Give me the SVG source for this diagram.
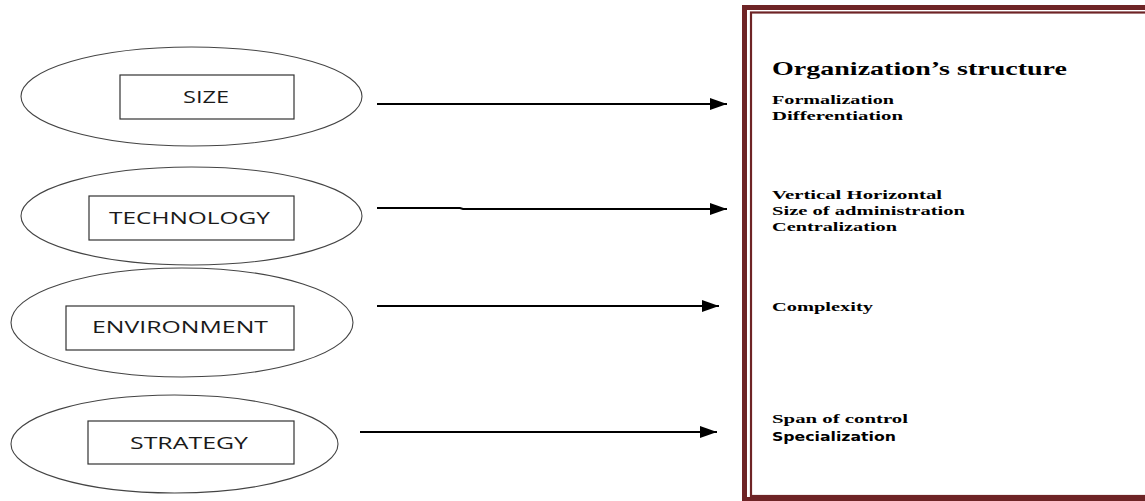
<svg xmlns="http://www.w3.org/2000/svg" width="1145" height="501" viewBox="0 0 1145 501">
<defs>
<style>
.ell{fill:none;stroke:#444;stroke-width:1.1}
.box{fill:#fff;stroke:#333;stroke-width:1.2}
.lbl{font-family:"Open Sans","Liberation Sans",sans-serif;font-size:17px;fill:#1a1a1a;text-anchor:start}
.conn{stroke:#000;stroke-width:2;fill:none}
.ttl{font-family:"Liberation Serif","DejaVu Serif",serif;font-weight:bold;font-size:19px;fill:#000}
.item{font-family:"Liberation Serif","DejaVu Serif",serif;font-weight:bold;font-size:13.5px;fill:#000}
.sans{font-family:"DejaVu Sans","Liberation Sans",sans-serif;font-weight:bold;font-size:11.5px;fill:#000}
.frame{fill:none;stroke:#6e2426}
</style>
<marker id="ah" markerUnits="userSpaceOnUse" markerWidth="18" markerHeight="14" refX="17" refY="6.5" orient="auto">
<polygon points="0,0.5 17,6.5 0,12.5" fill="#000"/>
</marker>
</defs>
<rect width="1145" height="501" fill="#fff"/>

<g id="frame">
<rect class="frame" x="744.5" y="7.5" width="420" height="492" stroke-width="5"/>
<rect class="frame" x="751" y="12.5" width="420" height="483.5" stroke-width="2.2"/>
</g>

<g id="node-size">
<ellipse class="ell" cx="191.5" cy="96.5" rx="170.5" ry="49.5"/>
<rect class="box" x="120" y="75" width="174" height="44"/>
<text class="lbl" x="183" y="103" textLength="46" lengthAdjust="spacingAndGlyphs">SIZE</text>
</g>

<g id="node-technology">
<ellipse class="ell" cx="191.5" cy="216" rx="170.5" ry="49"/>
<rect class="box" x="89" y="196" width="205" height="44"/>
<text class="lbl" x="109" y="224" textLength="161" lengthAdjust="spacingAndGlyphs">TECHNOLOGY</text>
</g>

<g id="node-environment">
<ellipse class="ell" cx="182" cy="322.5" rx="171" ry="54.5"/>
<rect class="box" x="66" y="306" width="228" height="44"/>
<text class="lbl" x="92" y="333" textLength="176" lengthAdjust="spacingAndGlyphs">ENVIRONMENT</text>
</g>

<g id="node-strategy">
<ellipse class="ell" cx="174.5" cy="444" rx="163.5" ry="49"/>
<rect class="box" x="88" y="421" width="206" height="43"/>
<text class="lbl" x="130" y="449" textLength="118" lengthAdjust="spacingAndGlyphs">STRATEGY</text>
</g>

<g id="node-structure">
<text class="ttl" x="772" y="75" textLength="295" lengthAdjust="spacingAndGlyphs">Organization’s  structure</text>
<text class="item" x="772" y="104" textLength="122" lengthAdjust="spacingAndGlyphs">Formalization</text>
<text class="item" x="772" y="120" textLength="131" lengthAdjust="spacingAndGlyphs">Differentiation</text>
<text class="item" x="772" y="199" textLength="170" lengthAdjust="spacingAndGlyphs">Vertical Horizontal</text>
<text class="item" x="772" y="215" textLength="193" lengthAdjust="spacingAndGlyphs">Size of administration</text>
<text class="item" x="772" y="231" textLength="125" lengthAdjust="spacingAndGlyphs">Centralization</text>
<text class="item" x="772" y="311" textLength="101" lengthAdjust="spacingAndGlyphs">Complexity</text>
<text class="item" x="772" y="423" textLength="136" lengthAdjust="spacingAndGlyphs">Span of control</text>
<text class="sans" x="772" y="441" textLength="124" lengthAdjust="spacingAndGlyphs">Specialization</text>
</g>

<g id="connectors">
<line class="conn" x1="377" y1="104" x2="727" y2="104" marker-end="url(#ah)"/>
<path class="conn" d="M377,208 L460,208 L463,209 L727,209" marker-end="url(#ah)"/>
<line class="conn" x1="377" y1="306" x2="719" y2="306" marker-end="url(#ah)"/>
<line class="conn" x1="360" y1="432" x2="717" y2="432" marker-end="url(#ah)"/>
</g>
</svg>
